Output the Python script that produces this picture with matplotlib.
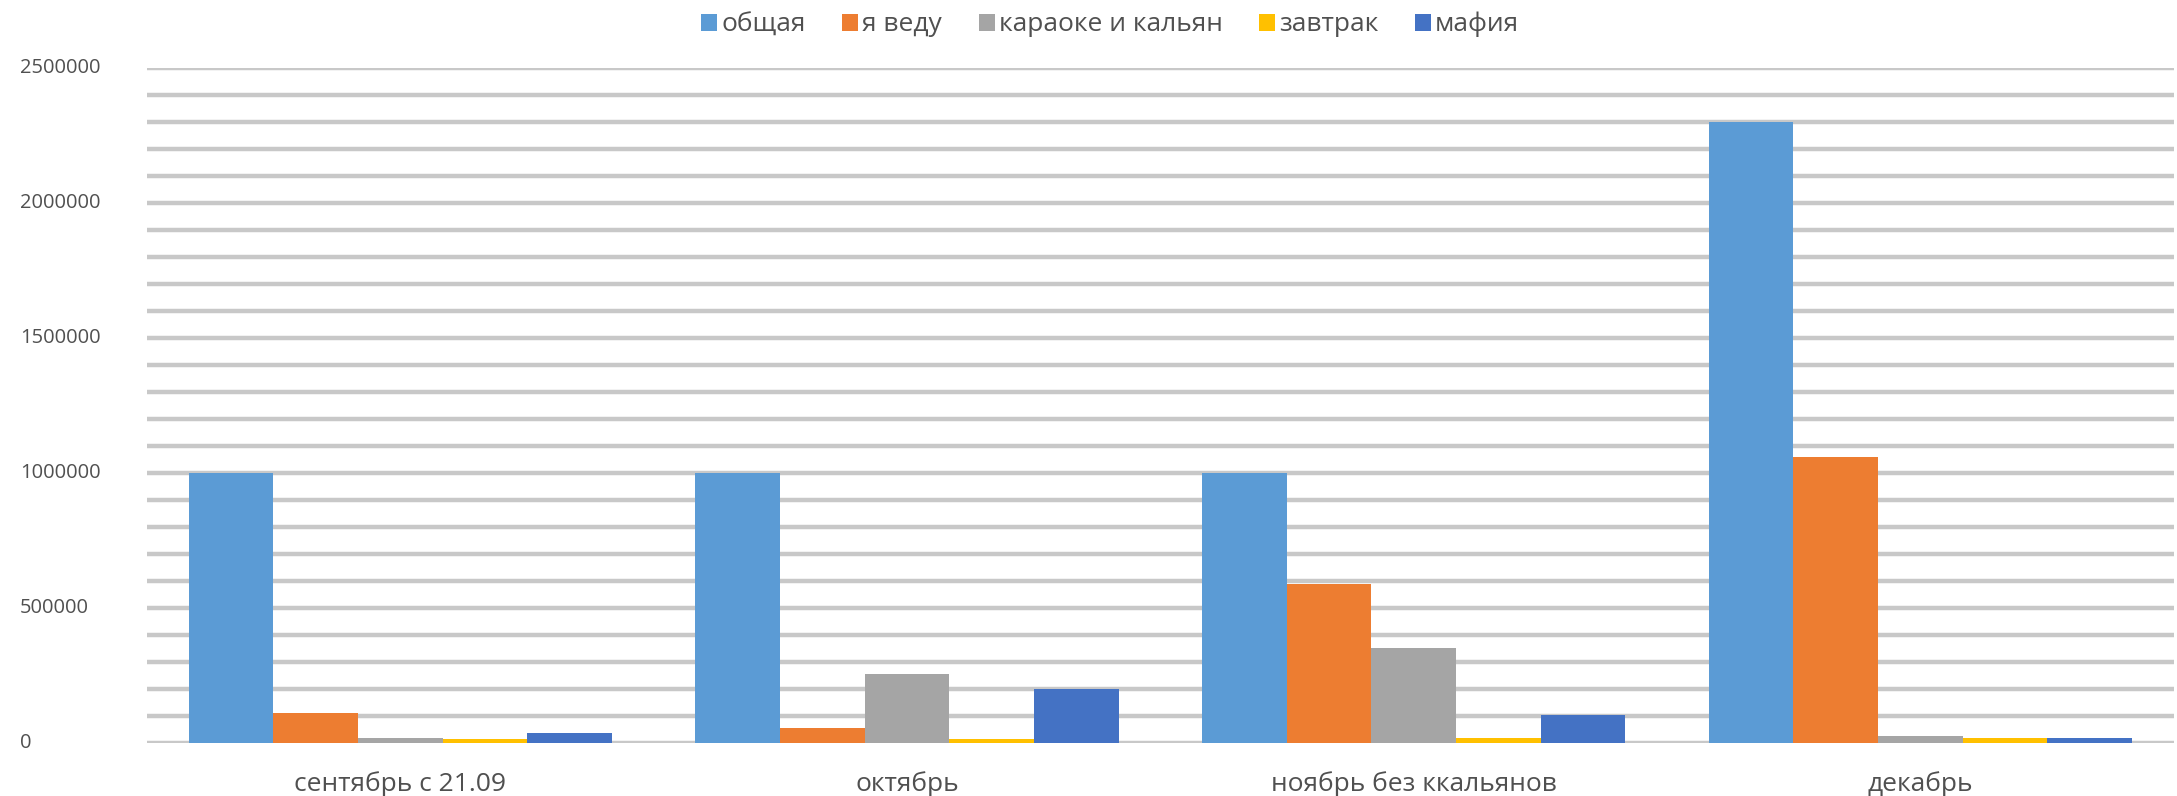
import numpy as np
import matplotlib.pyplot as plt

plt.rcParams['font.family'] = ['Open Sans', 'DejaVu Sans']

# месяцы и выручка по направлениям
months = ["сентябрь с 21.09", "октябрь", "ноябрь без ккальянов", "декабрь"]
series_names = ["общая", "я веду", "караоке и кальян", "завтрак", "мафия"]
obshaya = [1000000, 1000000, 1000000, 2300000]
ya_vedu = [112000, 59000, 590000, 1060000]
karaoke = [22000, 256000, 354000, 26000]
zavtrak = [18000, 18000, 20000, 20000]
mafia = [37000, 200000, 104000, 22000]

colors = ["#5B9BD5", "#ED7D31", "#A5A5A5", "#FFC000", "#4472C4"]
values = [obshaya, ya_vedu, karaoke, zavtrak, mafia]
text_color = "#505050"

fig = plt.figure(figsize=(21.77, 7.96), dpi=100)
ax = fig.add_axes([0.0675, 0.066, 0.931, 0.849])

x = np.arange(len(months))
w = 0.167
for i, (name, vals) in enumerate(zip(series_names, values)):
    ax.bar(x + (i - 2) * w, vals, width=w, color=colors[i], label=name, zorder=3)

ax.set_xlim(-0.5, len(months) - 0.5)
ax.set_ylim(0, 2500000)
ax.set_yticks(np.arange(0, 2500001, 100000))
ax.yaxis.grid(True, color="#C8C8C8", linewidth=3.2, zorder=0)
ax.set_axisbelow(True)
ax.set_yticklabels([])
# подписи оси Y выровнены по левому краю
for v in range(0, 2500001, 500000):
    ax.text(-0.0627, v, str(v), transform=ax.get_yaxis_transform(),
            ha="left", va="center", fontsize=14.5, color=text_color)

ax.set_xticks(x)
ax.set_xticklabels(months, fontsize=19, color=text_color)
ax.tick_params(axis="both", length=0)
ax.tick_params(axis="x", pad=20)
for s in ax.spines.values():
    s.set_visible(False)

fig.legend(loc="center", bbox_to_anchor=(0.51, 0.969), ncol=5, frameon=False,
           fontsize=19, handlelength=0.6, handleheight=0.6, handletextpad=0.15,
           columnspacing=1.4, labelcolor=text_color)

fig.savefig("out.png", dpi=100)
